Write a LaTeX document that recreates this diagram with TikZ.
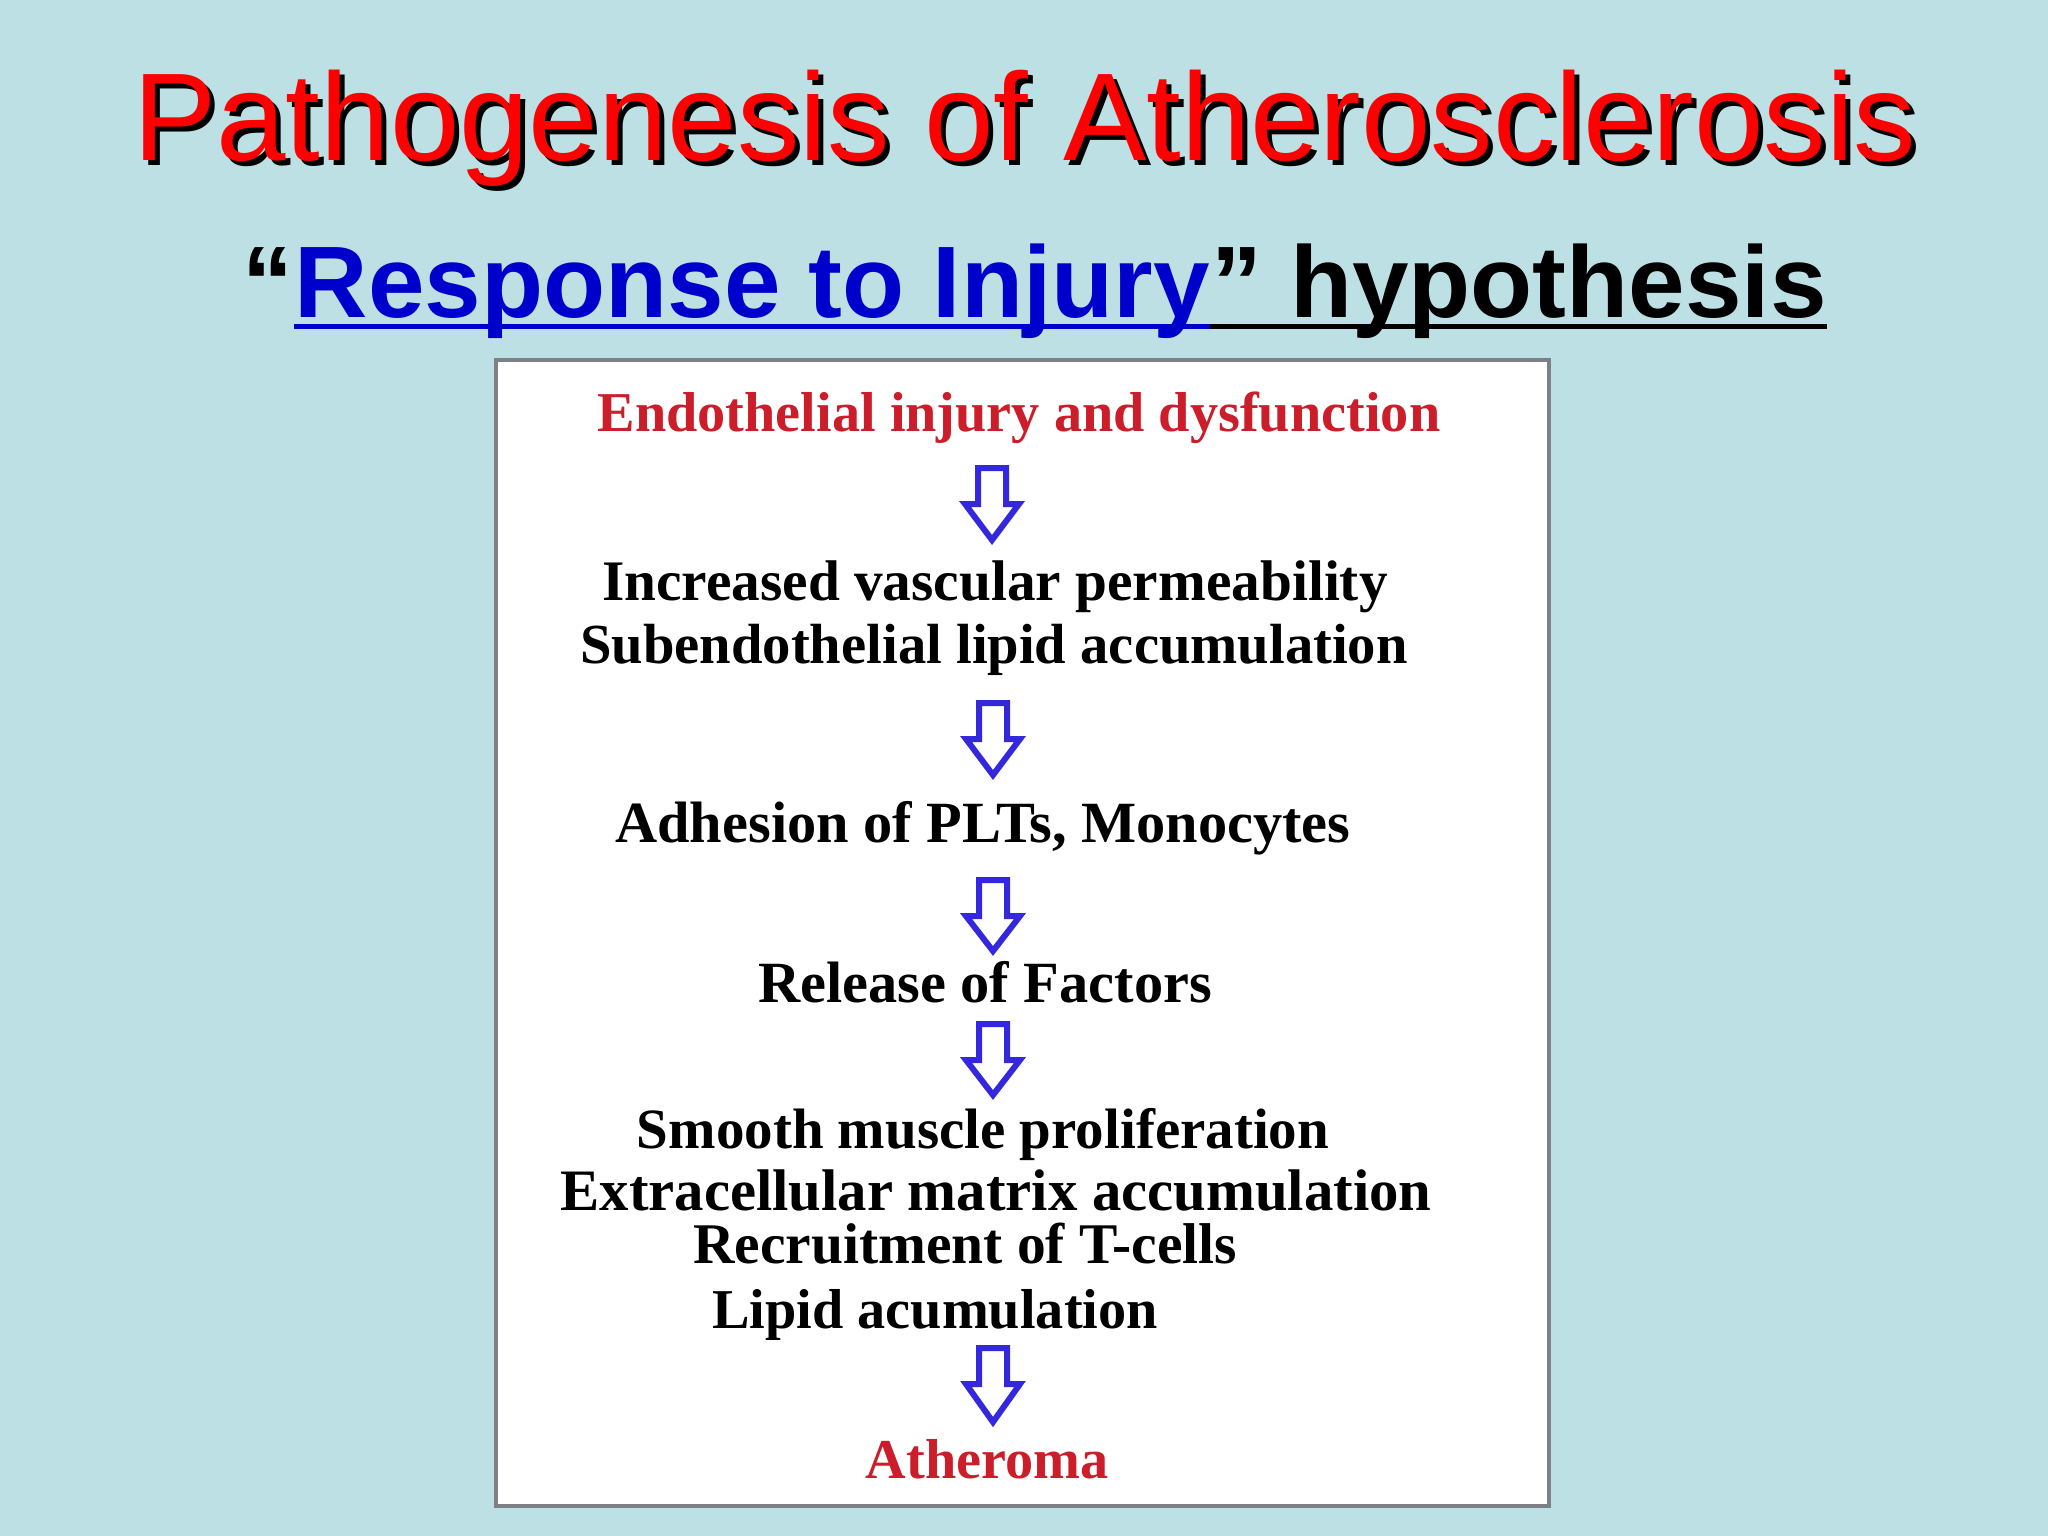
\documentclass[tikz,border=0pt]{standalone}
\usepackage{fontspec}
\setmainfont{Liberation Serif}
\setsansfont{Liberation Sans}
\usepackage{tikz}
\usetikzlibrary{calc}

\definecolor{bgblue}{RGB}{189,224,228}
\definecolor{titlered}{RGB}{255,0,0}
\definecolor{subblue}{RGB}{0,0,204}
\definecolor{boxred}{RGB}{204,30,42}
\definecolor{arrowblue}{RGB}{52,40,220}
\definecolor{bordergray}{RGB}{125,128,132}

% hollow block arrow, #1 = top of shaft, #2 = tip
\newcommand{\flowdown}[2]{%
\draw[flow] ($(#1)+(-14,0)$) -- ($(#1)+(14,0)$) -- ($(#1)+(14,36)$) -- ($(#1)+(27,36)$) -- (#2)
  -- ($(#1)+(-27,36)$) -- ($(#1)+(-14,36)$) -- cycle;}

\begin{document}
\begin{tikzpicture} [x=0.01cm, y=-0.01cm,
  title/.style = {inner sep=0pt, anchor=base, font=\sffamily\fontsize{35.5}{40}\selectfont},
  sub/.style = {inner sep=0pt, anchor=base west, font=\sffamily\bfseries\fontsize{28.9}{32}\selectfont},
  txt/.style = {inner sep=0pt, anchor=base, font=\bfseries\fontsize{#1}{19}\selectfont},
  txt/.default = 16,
  flow/.style = {draw=arrowblue, line width=0.06cm, fill=white, line join=miter}]
\useasboundingbox [fill=bgblue] (0,0) rectangle (2048,1536);

% heading
\node[title, black] (ts) at (1030,165) {Pathogenesis of Atherosclerosis};
\node[title, titlered] (t) at (1025,160) {Pathogenesis of Atherosclerosis};
\node[sub] (q1) at (242,317) {``};
\node[sub, subblue] (q2) at (q1.base east) {Response to Injury};
\node[sub] (q3) at (q2.base east) {'' hypothesis};
\draw[subblue, line width=0.05cm] ([yshift=-2.6pt]q2.base west) -- ([yshift=-2.6pt]q2.base east);
\draw[black, line width=0.05cm] ([yshift=-2.6pt]q2.base east) -- ([yshift=-2.6pt]q3.base east);

% box
\draw[bordergray, line width=0.04cm, fill=white] (496,360) rectangle (1549,1506);

\node[txt, boxred] (s1) at (1019,431) {Endothelial injury and dysfunction};
\node[txt=16.3] (s2) at (995,600) {Increased vascular permeability};
\node[txt=16.1] (s3) at (994,663) {Subendothelial lipid accumulation};
\node[txt=16.6] (s4) at (983,842) {Adhesion of PLTs, Monocytes};
\node[txt=16.6] (s5) at (985,1002) {Release of Factors};
\node[txt=16.2] (s6) at (983,1148) {Smooth muscle proliferation};
\node[txt=16.7] (s7) at (996,1210) {Extracellular matrix accumulation};
\node[txt=16.35] (s8) at (965,1263) {Recruitment of T-cells};
\node[txt] (s9) at (935,1328) {Lipid acumulation};
\node[txt, boxred] (s10) at (987,1478) {Atheroma};

\coordinate (t1) at (992,468);  \coordinate (h1) at (992,540);
\coordinate (t2) at (993,703);  \coordinate (h2) at (993,775);
\coordinate (t3) at (993,880);  \coordinate (h3) at (993,951);
\coordinate (t4) at (993,1024); \coordinate (h4) at (993,1095);
\coordinate (t5) at (993,1348); \coordinate (h5) at (993,1422);
\flowdown{t1}{h1}
\flowdown{t2}{h2}
\flowdown{t3}{h3}
\flowdown{t4}{h4}
\flowdown{t5}{h5}
\end{tikzpicture}
\end{document}
